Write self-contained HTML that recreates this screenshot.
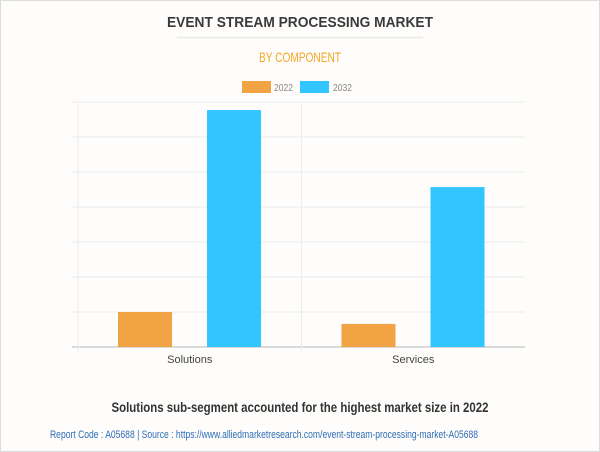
<!DOCTYPE html>
<html><head><meta charset="utf-8"><style>
html,body{margin:0;padding:0;background:#fff;}
svg{display:block;font-family:"Liberation Sans",sans-serif;}
</style></head><body>
<svg width="600" height="452" viewBox="0 0 600 452">
<rect x="0.5" y="0.5" width="599" height="451" fill="#fefdfc" stroke="#dcdcdc"/>
<text x="300" y="27" text-anchor="middle" font-size="15" font-weight="bold" fill="#3a3a3a" textLength="266" lengthAdjust="spacingAndGlyphs">EVENT STREAM PROCESSING MARKET</text>
<line x1="177" y1="37.5" x2="423" y2="37.5" stroke="#e8e8e8" stroke-width="1.5"/>
<text x="300" y="62" text-anchor="middle" font-size="14" fill="#f5a623" textLength="82" lengthAdjust="spacingAndGlyphs">BY COMPONENT</text>
<g>
<rect x="242" y="81" width="29" height="12" fill="#f2a444"/>
<text x="274" y="91" font-size="10" fill="#888" textLength="19" lengthAdjust="spacingAndGlyphs">2022</text>
<rect x="300" y="81" width="29" height="12" fill="#33c5ff"/>
<text x="333" y="91" font-size="10" fill="#888" textLength="19" lengthAdjust="spacingAndGlyphs">2032</text>
</g>
<g id="grid"></g>
<g id="bars"></g>
<g id="xlabels"></g>
<text x="300" y="412" text-anchor="middle" font-size="14" font-weight="bold" fill="#333" textLength="377" lengthAdjust="spacingAndGlyphs">Solutions sub-segment accounted for the highest market size in 2022</text>
<text x="264" y="438" text-anchor="middle" font-size="11" fill="#2e6db5" textLength="428" lengthAdjust="spacingAndGlyphs">Report Code : A05688  |  Source : https://www.alliedmarketresearch.com/event-stream-processing-market-A05688</text>
</svg>
<script>
const categories = ["Solutions", "Services"];
const values2022 = [1.0, 0.66];
const values2032 = [6.77, 4.57];
const yMax = 7;
const yTicks = [0,1,2,3,4,5,6,7];

const NS = "http://www.w3.org/2000/svg";
const plotL = 72, plotR = 525, plotTop = 102, plotBot = 347, axisX = 78;
function y(v){ return plotBot - (v / yMax) * (plotBot - plotTop); }
const bandW = (plotR - axisX) / categories.length;
function bandX(i){ return axisX + i * bandW; }
function mk(tag, attrs, parent){
  const e = document.createElementNS(NS, tag);
  for (const k in attrs) e.setAttribute(k, attrs[k]);
  parent.appendChild(e);
  return e;
}
const grid = document.getElementById("grid");
yTicks.forEach(t => {
  const l = mk("line", {x1: plotL, x2: plotR, y1: y(t), y2: y(t), stroke: t === 0 ? "#cfcfcf" : "#ececec", "stroke-width": t === 0 ? 1.5 : 1}, grid);
  
  
});
for (let i = 0; i <= categories.length; i++) {
  if (i === categories.length) break;
  const l = mk("line", {x1: bandX(i), x2: bandX(i), y1: plotTop, y2: plotBot + 5, stroke: "#ececec"}, grid);
  
  
}
const bars = document.getElementById("bars");
const xl = document.getElementById("xlabels");
categories.forEach((c, i) => {
  const x0 = bandX(i);
  const bw = 54;
  const b1 = mk("rect", {x: x0 + 40, y: y(values2022[i]), width: bw, height: plotBot - y(values2022[i]), fill: "#f2a444"}, bars);
  
  
  const b2 = mk("rect", {x: x0 + 129, y: y(values2032[i]), width: bw, height: plotBot - y(values2032[i]), fill: "#33c5ff"}, bars);
  
  
  const t = mk("text", {x: x0 + bandW / 2, y: 363, "text-anchor": "middle", "font-size": 11, fill: "#444"}, xl);
  t.textContent = c;
  
  
});
</script>
</body></html>
